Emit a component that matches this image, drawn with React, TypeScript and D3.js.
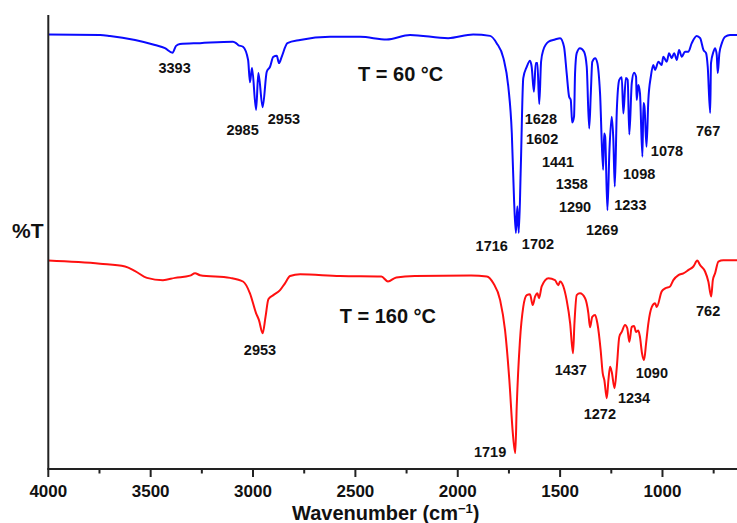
import React from "react";
import * as d3 from "d3";

// ---- Data (wavenumber cm^-1, transmittance in arbitrary %T units) ----
const blueWn = [4000, 3747, 3699, 3576, 3479, 3430, 3393, 3376, 3357, 3259, 3098, 3083, 3073, 3049, 3024, 3015, 3005, 2985, 2974, 2953, 2933, 2917, 2901, 2884, 2873, 2860, 2832, 2770, 2624, 2477, 2347, 2233, 2047, 1925, 1842, 1810, 1777, 1753, 1736, 1725, 1716, 1709, 1702, 1692, 1680, 1663, 1647, 1639, 1628, 1619, 1611, 1602, 1593, 1582, 1557, 1525, 1500, 1481, 1468, 1456, 1448, 1441, 1432, 1427, 1419, 1403, 1383, 1370, 1358, 1350, 1343, 1329, 1318, 1305, 1290, 1285, 1280, 1269, 1259, 1248, 1240, 1233, 1223, 1211, 1199, 1191, 1179, 1170, 1162, 1150, 1139, 1129, 1126, 1118, 1110, 1098, 1093, 1088, 1078, 1069, 1057, 1045, 1036, 1020, 1004, 996, 979, 968, 955, 943, 930, 919, 906, 890, 874, 857, 833, 816, 800, 787, 779, 767, 763, 751, 743, 735, 730, 722, 710, 694, 670, 636];
const blueT = [95.7, 95.6, 95.4, 94.5, 93.4, 92.7, 91.7, 93.2, 93.6, 93.8, 94.1, 93.8, 93.4, 93.0, 90.1, 85.2, 88.3, 79.1, 87.2, 79.7, 87.5, 88.6, 90.8, 91.0, 89.4, 90.8, 93.8, 94.5, 95.2, 95.2, 94.6, 95.6, 94.9, 95.7, 95.4, 93.8, 90.5, 84.2, 74.0, 59.3, 52.0, 57.9, 52.0, 66.6, 86.1, 88.6, 89.9, 88.6, 83.1, 89.4, 89.4, 80.4, 89.7, 92.3, 94.1, 94.6, 94.9, 93.0, 87.2, 82.0, 81.3, 76.3, 77.6, 87.2, 91.6, 92.7, 91.9, 88.6, 75.0, 82.8, 89.7, 90.5, 89.4, 82.8, 65.9, 73.9, 73.2, 57.0, 70.3, 77.6, 72.5, 62.2, 79.1, 85.7, 86.3, 78.3, 86.1, 85.7, 73.7, 85.0, 87.3, 86.4, 81.3, 84.6, 82.8, 68.8, 80.6, 79.8, 71.0, 81.3, 86.4, 89.0, 87.9, 89.7, 89.0, 90.8, 89.7, 91.6, 90.5, 91.6, 90.1, 92.3, 90.8, 91.9, 91.9, 93.8, 95.4, 94.9, 92.3, 91.6, 88.6, 78.4, 89.4, 91.9, 92.7, 91.2, 87.2, 91.6, 93.8, 95.2, 95.6, 95.6];

const redWn = [4000, 3747, 3625, 3576, 3518, 3440, 3381, 3308, 3283, 3259, 3112, 3049, 3015, 2985, 2971, 2953, 2939, 2925, 2901, 2868, 2844, 2819, 2770, 2575, 2373, 2341, 2300, 2210, 1934, 1858, 1826, 1793, 1769, 1748, 1731, 1719, 1712, 1696, 1680, 1663, 1647, 1634, 1622, 1611, 1603, 1590, 1557, 1525, 1509, 1500, 1484, 1468, 1451, 1437, 1430, 1419, 1403, 1378, 1362, 1354, 1343, 1329, 1318, 1302, 1292, 1284, 1272, 1264, 1256, 1248, 1234, 1223, 1211, 1199, 1183, 1172, 1162, 1150, 1139, 1129, 1118, 1110, 1100, 1090, 1080, 1069, 1052, 1036, 1028, 1004, 987, 963, 947, 922, 898, 874, 849, 830, 816, 792, 776, 762, 754, 743, 727, 703, 636];
const redT = [45.9, 45.2, 44.6, 43.6, 42.1, 41.6, 42.1, 42.6, 43.1, 42.7, 42.1, 41.3, 38.7, 34.3, 32.8, 29.9, 33.5, 37.4, 38.3, 39.4, 40.9, 42.5, 42.9, 42.5, 42.4, 41.3, 42.2, 42.5, 42.6, 42.4, 40.9, 37.2, 30.6, 19.6, 7.9, 3.5, 13.7, 28.4, 35.7, 38.3, 38.5, 36.1, 38.0, 38.7, 37.6, 40.2, 42.0, 41.6, 40.5, 41.3, 40.2, 37.2, 32.1, 25.5, 32.1, 38.3, 38.7, 37.6, 34.3, 31.2, 33.5, 33.9, 32.1, 26.2, 21.1, 19.6, 15.6, 19.6, 22.5, 21.4, 17.8, 22.5, 29.1, 30.2, 31.7, 31.0, 28.0, 31.3, 31.5, 30.2, 30.5, 29.1, 25.5, 24.0, 27.7, 32.1, 35.7, 36.5, 35.7, 39.1, 39.8, 40.2, 41.6, 42.7, 43.1, 43.8, 44.6, 45.9, 44.9, 43.5, 41.3, 38.0, 41.6, 43.1, 45.7, 46.0, 46.0];

// x-axis ticks
const majorTicks = [4000, 3500, 3000, 2500, 2000, 1500, 1000];
const minorTicks = [3750, 3250, 2750, 2250, 1750, 1250, 750];

// Peak annotations: label text, anchor wavenumber, anchor %T (text baseline)
const blueLabels = ["3393", "2985", "2953", "1628", "1602", "1441", "1358", "1290", "1269", "1233", "1098", "1078", "767", "1716", "1702"];
const blueLabelWn = [3383, 3051, 2849, 1594, 1588, 1510, 1443, 1427, 1295, 1157, 1114, 978, 777, 1834, 1608];
const blueLabelT = [87.3, 73.6, 76.1, 76.1, 71.6, 66.6, 61.7, 56.5, 51.5, 57.0, 63.9, 68.9, 73.3, 48.0, 48.5];

const redLabels = ["2953", "1437", "1272", "1234", "1090", "762", "1719"];
const redLabelWn = [2966, 1448, 1306, 1139, 1052, 777, 1842];
const redLabelT = [25.1, 20.7, 11.0, 14.5, 20.0, 33.7, 2.6];

const titles = ["T = 60 °C", "T = 160 °C"];
const titleWn = [2487, 2577];
const titleT = [85.5, 32.2];

const W = 737;
const H = 523;
const FONT = "'Liberation Sans', Arial, Helvetica, sans-serif";

export default function App() {
  const x = d3.scaleLinear().domain([4000, 636]).range([48.3, 737]);
  const y = d3.scaleLinear().domain([0, 100]).range([469, 15]);

  const line = d3
    .line<[number, number]>()
    .x((d) => x(d[0]))
    .y((d) => y(d[1]))
    .curve(d3.curveMonotoneX);

  const blue = blueWn.map((w, i) => [w, blueT[i]] as [number, number]);
  const red = redWn.map((w, i) => [w, redT[i]] as [number, number]);

  const axisY = y(0);
  const axisX = x(4000);

  return (
    <svg
      width={W}
      height={H}
      viewBox={`0 0 ${W} ${H}`}
      style={{ position: "absolute", left: 0, top: 0, background: "#fff" }}
      fontFamily={FONT}
      fontWeight="bold"
    >
      <rect x={0} y={0} width={W} height={H} fill="#fff" />
      <path d={line(blue) || ""} fill="none" stroke="#0a0aff" strokeWidth={2} strokeLinejoin="round" />
      <path d={line(red) || ""} fill="none" stroke="#ff1010" strokeWidth={2} strokeLinejoin="round" />

      {/* axes */}
      <line x1={axisX} x2={axisX} y1={y(100)} y2={axisY} stroke="#222" strokeWidth={2} />
      <line x1={axisX - 1} x2={W} y1={axisY} y2={axisY} stroke="#222" strokeWidth={2} />
      {majorTicks.map((t) => (
        <g key={"M" + t}>
          <line x1={x(t)} x2={x(t)} y1={axisY} y2={axisY + 8} stroke="#222" strokeWidth={2} />
          <text x={x(t)} y={496.5} textAnchor="middle" fontSize={17} fill="#111">
            {t}
          </text>
        </g>
      ))}
      {minorTicks.map((t) => (
        <line key={"m" + t} x1={x(t)} x2={x(t)} y1={axisY} y2={axisY + 4.5} stroke="#222" strokeWidth={2} />
      ))}

      {/* axis titles */}
      <text x={292} y={519.5} fontSize={20} fill="#111">
        Wavenumber (cm
        <tspan fontSize={13} dy={-7}>−1</tspan>
        <tspan dy={7}>)</tspan>
      </text>
      <text x={12} y={238} fontSize={21} fill="#111">%T</text>

      {/* titles */}
      {titles.map((t, i) => (
        <text key={t} x={x(titleWn[i])} y={y(titleT[i])} fontSize={20} fill="#111">
          {t}
        </text>
      ))}

      {/* peak labels */}
      {blueLabels.map((t, i) => (
        <text key={"b" + i} x={x(blueLabelWn[i])} y={y(blueLabelT[i])} textAnchor="middle" fontSize={14.5} fill="#111">
          {t}
        </text>
      ))}
      {redLabels.map((t, i) => (
        <text key={"r" + i} x={x(redLabelWn[i])} y={y(redLabelT[i])} textAnchor="middle" fontSize={14.5} fill="#111">
          {t}
        </text>
      ))}
    </svg>
  );
}
